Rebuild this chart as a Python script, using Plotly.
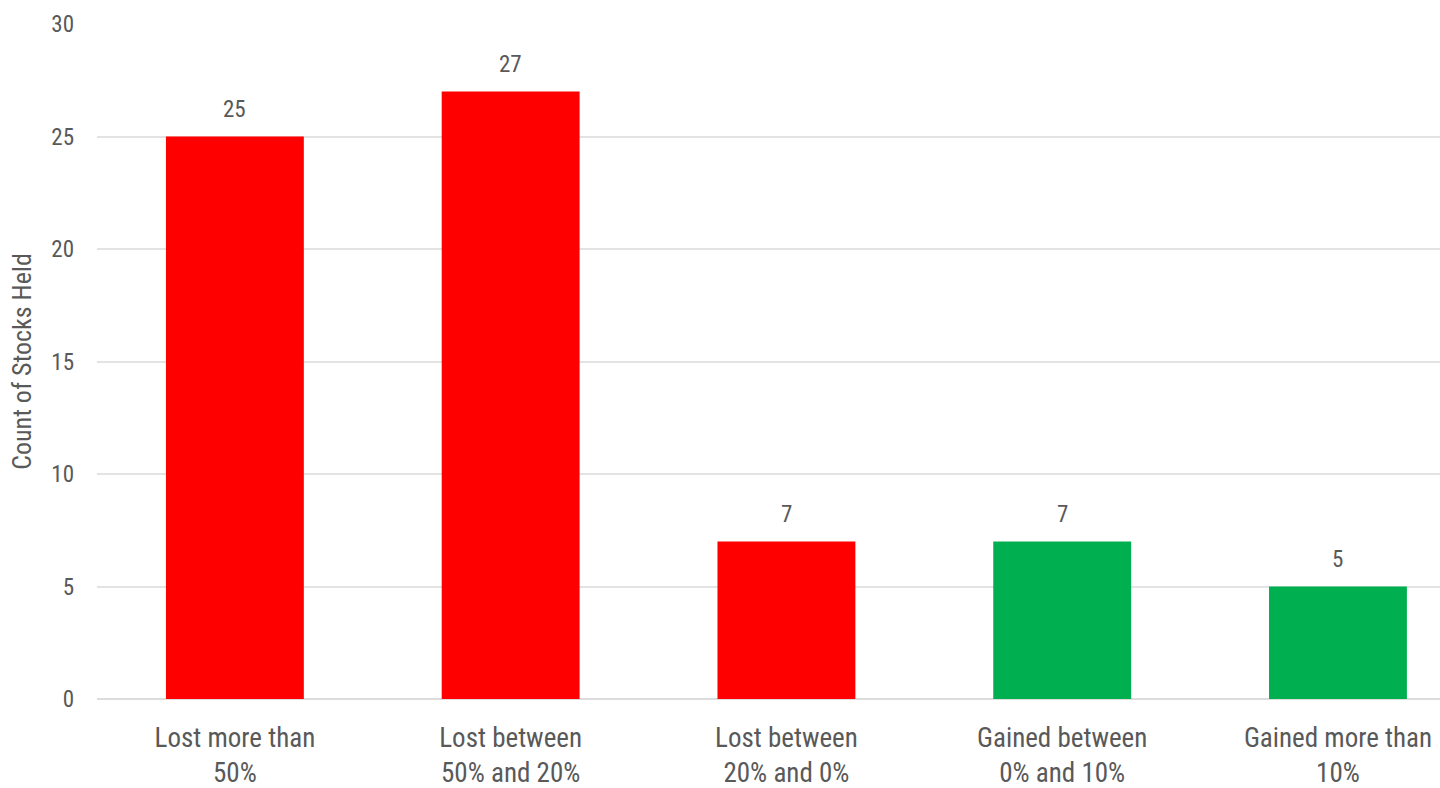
import plotly.graph_objects as go

# Holdings grouped by price change bucket
categories = [
    "Lost more than<br>50%",
    "Lost between<br>50% and 20%",
    "Lost between<br>20% and 0%",
    "Gained between<br>0% and 10%",
    "Gained more than<br>10%",
]
counts = [25, 27, 7, 7, 5]
bar_colors = ["#ff0000", "#ff0000", "#ff0000", "#00b050", "#00b050"]
y_ticks = [0, 5, 10, 15, 20, 25, 30]

FONT = "'Liberation Sans Narrow', 'Roboto Condensed', Roboto, sans-serif"
TEXT = "#595959"

xs = list(range(len(categories)))

fig = go.Figure(
    go.Bar(
        x=xs,
        y=counts,
        marker=dict(color=bar_colors, line=dict(width=0)),
        width=0.5,
        hoverinfo="x+y",
    )
)

# value labels above each bar
for x, c in zip(xs, counts):
    fig.add_annotation(
        x=x, y=c, text=str(c), showarrow=False,
        yanchor="bottom", yshift=12,
        font=dict(family=FONT, size=23, color=TEXT),
    )

fig.update_layout(
    width=1440,
    height=788,
    margin=dict(l=97, r=0, t=24, b=89, autoexpand=False),
    paper_bgcolor="white",
    plot_bgcolor="white",
    showlegend=False,
    font=dict(family=FONT, color=TEXT),
    xaxis=dict(
        tickmode="array",
        tickvals=xs,
        ticktext=categories,
        range=[-0.5, 4.37],
        showgrid=False,
        zeroline=False,
        automargin=False,
        tickfont=dict(family=FONT, size=27, color=TEXT),
        ticks="",
        ticklabelstandoff=20,
    ),
    yaxis=dict(
        range=[0, 30],
        tickvals=y_ticks,
        gridcolor="#e3e3e3",
        gridwidth=1.5,
        zeroline=True,
        zerolinecolor="#dcdcdc",
        zerolinewidth=1.5,
        automargin=False,
        tickfont=dict(family=FONT, size=23, color=TEXT),
        ticklabelstandoff=22,
        title=dict(
            text="Count of Stocks Held",
            font=dict(family=FONT, size=26, color=TEXT),
            standoff=12,
        ),
    ),
)

fig.write_html("out.html")
